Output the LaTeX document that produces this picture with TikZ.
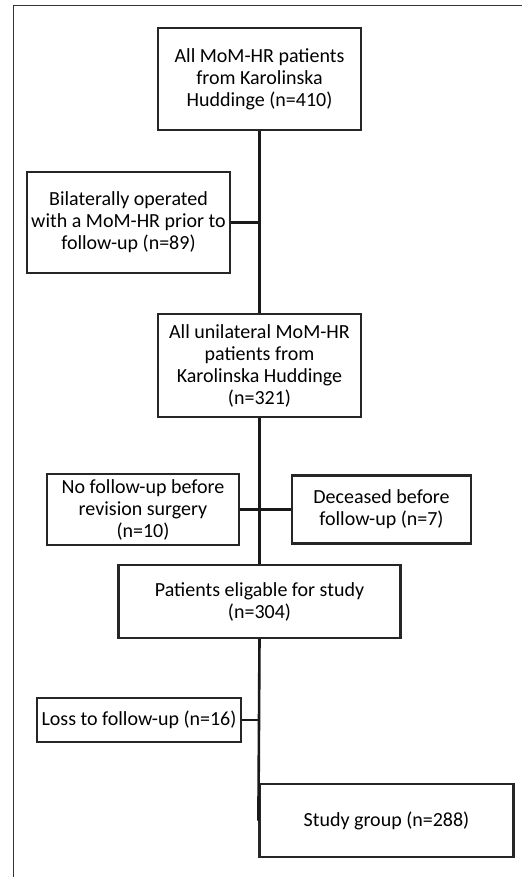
\documentclass[tikz,border=0pt]{standalone}
\usepackage{fontspec}
\setmainfont{Carlito}
\usetikzlibrary{calc}
\tikzstyle{FlowBox}=[rectangle, draw=black!85, line width=2.2pt, align=center, inner sep=0pt, font=\fontsize{20}{22}\selectfont]
\tikzstyle{JoinEdge}=[line width=2.6pt, black!90]
\tikzstyle{FrameLine}=[line width=1.2pt, black!80]
\begin{document}
\begin{tikzpicture}[x=1pt, y=-1pt]
\useasboundingbox (0,0) rectangle (522,877);
\draw[FrameLine] (13.3,877) -- (13.3,5.5) -- (522,5.5);

\node[FlowBox, minimum width=203pt, minimum height=102pt](AllPat) at (259.5,79) {All MoM-HR patients\\from Karolinska\\Huddinge (n=410)};
\node[FlowBox, minimum width=203pt, minimum height=101pt](Bilat) at (128.5,222.5) {Bilaterally operated\\with a MoM-HR prior to\\follow-up (n=89)};
\node[FlowBox, minimum width=203pt, minimum height=103pt](Unilat) at (259.5,365.5) {All unilateral MoM-HR\\patients from\\Karolinska Huddinge\\(n=321)};
\node[FlowBox, minimum width=192pt, minimum height=71pt](NoFollow) at (143,509.5) {No follow-up before\\revision surgery\\(n=10)};
\node[FlowBox, minimum width=179pt, minimum height=68pt](Deceased) at (381.5,509.5) {Deceased before\\follow-up (n=7)};
\node[FlowBox, minimum width=282pt, minimum height=73pt](Eligible) at (259.5,601.5) {Patients eligable for study\\(n=304)};
\node[FlowBox, minimum width=204pt, minimum height=44pt](Loss) at (139,720) {Loss to follow-up (n=16)};
\node[FlowBox, minimum width=254pt, minimum height=73pt](Study) at (386.5,820.5) {Study group (n=288)};

\draw[JoinEdge](AllPat.south) -- (Unilat.north);
\draw[JoinEdge](Bilat.east) -- (Bilat.east -| AllPat.south);
\draw[JoinEdge](Unilat.south) -- (Eligible.north);
\draw[JoinEdge](NoFollow.east) -- (NoFollow.east -| Unilat.south);
\draw[JoinEdge](Deceased.west) -- (Deceased.west -| Unilat.south);
\draw[JoinEdge](Eligible.south) -- (Study.west);
\draw[JoinEdge](Loss.east) -- (Loss.east -| Eligible.south);
\end{tikzpicture}
\end{document}
